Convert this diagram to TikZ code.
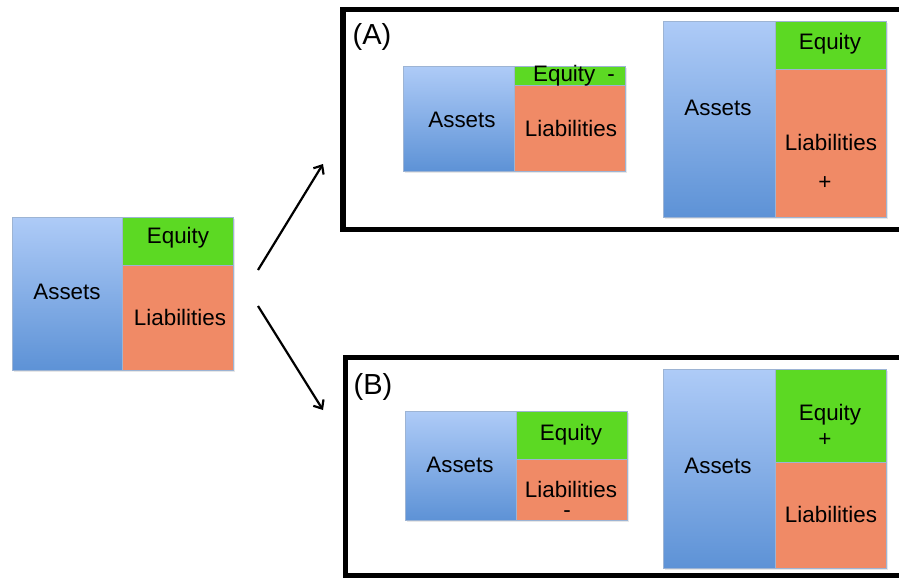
\documentclass[tikz,border=0pt]{standalone}
\usepackage{fontspec}
\setmainfont{Liberation Sans}
\usetikzlibrary{arrows.meta,shadows}
\definecolor{assetTop}{HTML}{AECBF7}
\definecolor{assetBot}{HTML}{5D92D6}
\definecolor{eqgreen}{HTML}{5CD923}
\definecolor{liabc}{HTML}{F08A66}
\definecolor{cellline}{HTML}{9DB4D4}
\begin{document}
\begin{tikzpicture}[x=1pt,y=-1pt,
  cell/.style={draw=cellline, line width=0.7pt, inner sep=0pt, anchor=north west,
    drop shadow={shadow xshift=1.2pt, shadow yshift=-1.8pt, fill=black!18}},
  assetcell/.style={cell, top color=assetTop, bottom color=assetBot},
  eqcell/.style={cell, fill=eqgreen},
  liabcell/.style={cell, fill=liabc},
  lbl/.style={inner sep=0pt, font=\fontsize{22.4}{26}\selectfont},
  panel/.style={font=\fontsize{29}{32}\selectfont, inner sep=0pt},
  frame/.style={line width=5.5pt, draw=black},
  arr/.style={line width=2.2pt, -{Straight Barb[length=7pt,width=12pt,line width=2.2pt]}}
]
\useasboundingbox (0,0) rectangle (899,578);
\clip (0,0) rectangle (899,578);
\fill[white] (0,0) rectangle (899,578);

% left block
\node[assetcell, minimum width=110pt, minimum height=153pt] (Las) at (12,217) {};
\node[eqcell, minimum width=111pt, minimum height=48pt] (Leq) at (122,217) {};
\node[liabcell, minimum width=111pt, minimum height=105pt] (Lli) at (122,265) {};
\node[lbl] (tLas) at (67,292) {Assets};
\node[lbl] (tLeq) at (178,238) {Equity};
\node[lbl] (tLli) at (180,317) {Liabilities};

% panel A frame
\draw[frame] (343,9.5) rectangle (910,229.5);
\node[panel] (pA) at (372,37) {(A)};
% small A
\node[assetcell, minimum width=111pt, minimum height=105pt] (Aas) at (403,66) {};
\node[eqcell, minimum width=111pt, minimum height=19pt] (Aeq) at (514,66) {};
\node[liabcell, minimum width=111pt, minimum height=86pt] (Ali) at (514,85) {};
\node[lbl] (tAas) at (462,120) {Assets};
\node[lbl] (tAeq) at (574,76) {Equity\hspace{12pt}-};
\node[lbl] (tAli) at (571,128) {Liabilities};
% big A
\node[assetcell, minimum width=112pt, minimum height=196pt] (AAas) at (663,21) {};
\node[eqcell, minimum width=111pt, minimum height=48pt] (AAeq) at (775,21) {};
\node[liabcell, minimum width=111pt, minimum height=148pt] (AAli) at (775,69) {};
\node[lbl] (tAAas) at (718,108) {Assets};
\node[lbl] (tAAeq) at (830,44) {Equity};
\node[lbl] (tAAli) at (831,142) {Liabilities};
\node[lbl] (tAAp) at (825,183) {+};

% panel B frame
\draw[frame] (345.5,357.5) rectangle (910,575.5);
\node[panel] (pB) at (373,387) {(B)};
% small B
\node[assetcell, minimum width=111pt, minimum height=109pt] (Bas) at (405,411) {};
\node[eqcell, minimum width=111pt, minimum height=48pt] (Beq) at (516,411) {};
\node[liabcell, minimum width=111pt, minimum height=61pt] (Bli) at (516,459) {};
\node[lbl] (tBas) at (460,465) {Assets};
\node[lbl] (tBeq) at (571,435) {Equity};
\node[lbl, align=center, font=\fontsize{22.4}{20}\selectfont] (tBli) at (571,499) {Liabilities\\\hspace*{-8pt}-};
% big B
\node[assetcell, minimum width=112pt, minimum height=199pt] (BBas) at (663,369) {};
\node[eqcell, minimum width=111pt, minimum height=93pt] (BBeq) at (775,369) {};
\node[liabcell, minimum width=111pt, minimum height=106pt] (BBli) at (775,462) {};
\node[lbl] (tBBas) at (718,466) {Assets};
\node[lbl] (tBBeq) at (830,415) {Equity};
\node[lbl] (tBBp) at (825,440) {+};
\node[lbl] (tBBli) at (831,514) {Liabilities};

% arrows
\coordinate (a1s) at (258,270);
\coordinate (a1e) at (323,164);
\coordinate (a2s) at (258,306);
\coordinate (a2e) at (323,410);
\draw[arr] (a1s) -- (a1e);
\draw[arr] (a2s) -- (a2e);
\end{tikzpicture}
\end{document}
